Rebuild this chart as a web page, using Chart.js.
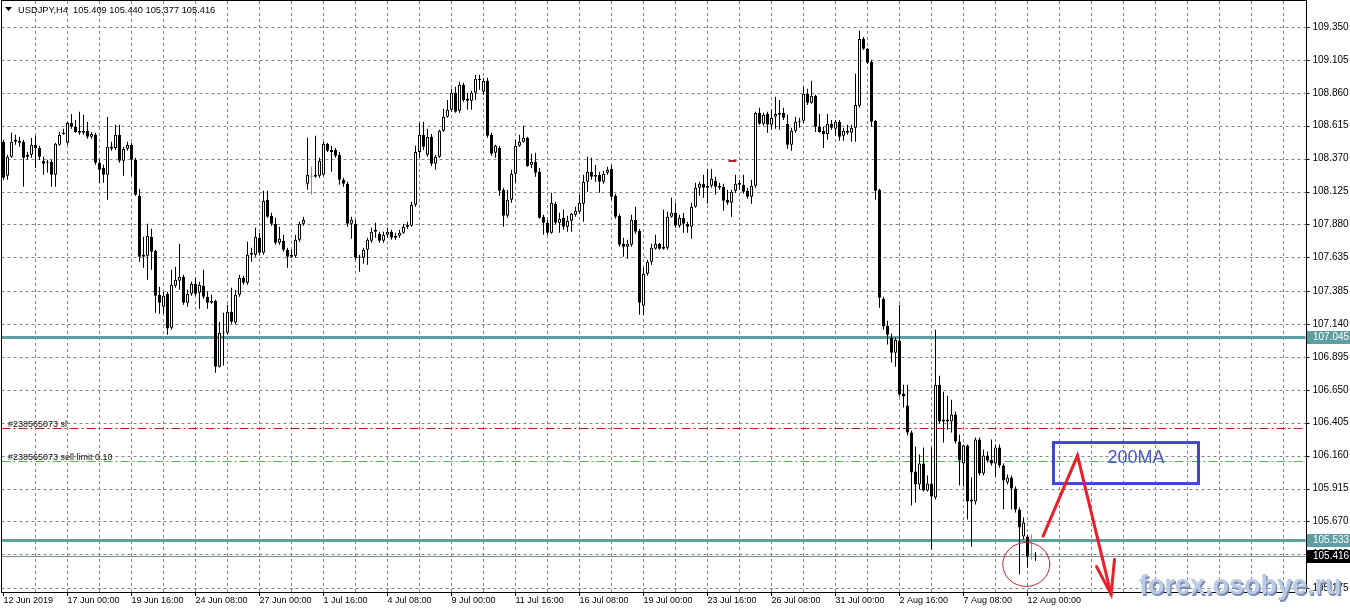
<!DOCTYPE html>
<html><head><meta charset="utf-8">
<script src="https://cdn.jsdelivr.net/npm/chart.js@4.4.1/dist/chart.umd.min.js"></script>
<style>html,body{margin:0;padding:0;background:#fff;overflow:hidden}canvas{display:block}</style>
</head><body>
<canvas id="c" width="1350" height="611"></canvas>
<script>
const symbolTitle = 'USDJPY,H4  105.409 105.440 105.377 105.416';
const firstLabel = '12 Jun 2019';
const tickLabels = ['12 Jun 2019','17 Jun 00:00','19 Jun 16:00','24 Jun 08:00','27 Jun 00:00','1 Jul 16:00','4 Jul 08:00','9 Jul 00:00','11 Jul 16:00','16 Jul 08:00','19 Jul 00:00','23 Jul 16:00','26 Jul 08:00','31 Jul 00:00','2 Aug 16:00','7 Aug 08:00','12 Aug 00:00'];
const yTicks = [109.350,109.105,108.860,108.615,108.370,108.125,107.880,107.635,107.385,107.140,106.895,106.650,106.405,106.160,105.915,105.670,105.425,105.175];

const open = [
108.495,108.242,108.384,108.495,108.503,108.495,108.384,108.398,108.473,108.450,
108.354,108.346,108.346,108.250,108.473,108.554,108.488,108.636,108.607,108.577,
108.562,108.577,108.532,108.547,108.339,108.301,108.250,108.458,108.450,108.547,
108.354,108.443,108.473,108.361,108.094,107.640,107.647,107.789,107.685,107.357,
107.268,107.365,107.112,107.424,107.462,107.491,107.298,107.365,107.439,107.372,
107.424,107.343,107.298,107.313,106.822,107.068,107.075,107.231,107.150,107.357,
107.484,107.447,107.655,107.655,107.782,107.670,108.064,107.945,107.886,107.744,
107.759,107.692,107.655,107.647,107.766,107.886,108.183,108.235,108.250,108.242,
108.250,108.480,108.435,108.435,108.398,108.212,108.183,107.886,107.886,107.640,
107.633,107.692,107.759,107.840,107.811,107.759,107.804,107.826,107.782,107.796,
107.819,107.863,107.871,108.027,108.420,108.547,108.398,108.532,108.331,108.384,
108.577,108.681,108.733,108.860,108.726,108.919,108.815,108.800,108.860,108.964,
108.867,108.949,108.547,108.413,108.450,108.138,107.945,108.064,108.257,108.465,
108.495,108.525,108.324,108.346,108.272,107.938,107.893,107.819,108.035,107.893,
107.930,107.863,107.908,107.953,107.975,108.035,108.198,108.272,108.250,108.250,
108.198,108.264,108.294,108.094,107.945,107.737,107.715,107.729,107.915,107.834,
107.276,107.514,107.603,107.700,107.737,107.700,107.707,107.938,107.968,107.871,
107.930,107.886,107.863,108.012,108.153,108.183,108.153,108.168,108.205,108.168,
108.160,108.064,108.042,108.131,108.190,108.175,108.131,108.086,108.168,108.711,
108.629,108.703,108.622,108.681,108.696,108.711,108.629,108.473,108.577,108.651,
108.651,108.852,108.785,108.837,108.607,108.577,108.554,108.629,108.592,108.644,
108.540,108.577,108.562,108.599,108.763,109.261,109.187,109.090,108.651,108.138,
107.328,107.127,107.038,106.926,107.016,106.622,106.532,106.332,106.042,105.945,
106.101,105.900,105.952,105.848,106.688,106.428,106.428,106.413,106.465,106.265,
106.101,106.235,105.833,105.818,106.279,106.027,106.161,106.130,106.101,106.220,
106.086,105.960,105.997,105.915,105.759,105.558,105.558,105.424,105.409];

const high = [
108.510,108.398,108.562,108.547,108.532,108.510,108.420,108.525,108.540,108.465,
108.384,108.361,108.361,108.488,108.569,108.592,108.644,108.703,108.658,108.718,
108.696,108.644,108.569,108.562,108.361,108.324,108.681,108.495,108.622,108.622,
108.458,108.495,108.488,108.376,108.146,107.789,107.886,107.848,107.692,107.417,
107.380,107.380,107.543,107.566,107.737,107.506,107.394,107.454,107.484,107.454,
107.543,107.380,107.357,107.320,107.157,107.224,107.283,107.409,107.394,107.506,
107.499,107.752,107.707,107.856,107.819,108.131,108.131,107.968,107.930,107.863,
107.804,107.707,107.692,107.804,107.901,107.938,108.525,108.309,108.540,108.376,
108.495,108.488,108.465,108.450,108.420,108.227,108.198,107.938,107.915,107.655,
107.707,107.782,107.856,107.893,107.826,107.826,107.856,107.840,107.819,107.840,
107.886,107.901,108.050,108.465,108.636,108.644,108.592,108.554,108.398,108.584,
108.741,108.807,108.890,108.904,108.942,108.934,108.860,108.875,108.994,108.994,
108.971,108.971,108.562,108.473,108.465,108.153,108.138,108.287,108.510,108.547,
108.614,108.532,108.406,108.413,108.301,107.953,107.915,108.116,108.050,107.968,
107.989,107.945,107.968,108.012,108.101,108.250,108.384,108.376,108.324,108.272,
108.279,108.309,108.324,108.109,107.960,107.782,107.766,107.953,108.012,107.848,
107.558,107.617,107.737,107.804,107.744,107.989,107.975,108.079,108.042,107.953,
107.968,107.901,108.042,108.190,108.198,108.250,108.294,108.294,108.235,108.190,
108.183,108.138,108.138,108.250,108.212,108.250,108.153,108.212,108.718,108.748,
108.711,108.718,108.733,108.830,108.807,108.748,108.696,108.599,108.681,108.674,
108.904,108.890,108.949,108.845,108.703,108.607,108.703,108.658,108.658,108.658,
108.599,108.622,108.622,109.001,109.321,109.276,109.194,109.105,108.658,108.146,
107.343,107.164,107.068,107.038,107.283,106.688,106.688,106.347,106.228,106.168,
106.220,106.012,106.220,107.097,106.755,106.636,106.606,106.576,106.488,106.317,
106.242,106.242,105.997,106.294,106.294,106.205,106.190,106.279,106.242,106.242,
106.101,106.019,106.012,105.930,105.774,105.700,105.573,105.573,105.440];

const low = [
108.212,108.212,108.376,108.473,108.458,108.160,108.361,108.376,108.301,108.361,
108.250,108.264,108.160,108.160,108.465,108.547,108.473,108.592,108.562,108.547,
108.547,108.518,108.518,108.324,108.190,108.190,108.064,108.428,108.435,108.339,
108.242,108.428,108.242,108.094,107.603,107.558,107.469,107.543,107.224,107.216,
107.216,107.060,107.097,107.409,107.394,107.283,107.268,107.350,107.350,107.253,
107.328,107.253,107.290,106.777,106.815,106.830,107.060,107.142,107.135,107.343,
107.432,107.432,107.603,107.640,107.655,107.655,107.930,107.871,107.729,107.729,
107.677,107.558,107.633,107.633,107.752,107.871,108.138,108.101,108.227,108.227,
108.242,108.420,108.272,108.376,108.175,108.160,107.863,107.774,107.617,107.529,
107.588,107.581,107.744,107.782,107.744,107.744,107.782,107.766,107.766,107.782,
107.811,107.848,107.863,108.012,108.376,108.435,108.384,108.316,108.287,108.376,
108.570,108.674,108.718,108.711,108.711,108.793,108.733,108.733,108.807,108.882,
108.845,108.525,108.391,108.376,108.094,107.863,107.930,108.042,108.190,108.458,
108.488,108.309,108.301,108.235,107.923,107.804,107.804,107.811,107.878,107.819,
107.840,107.826,107.826,107.938,107.960,107.901,108.124,108.212,108.198,108.116,
108.183,108.250,108.064,107.923,107.715,107.640,107.625,107.715,107.811,107.209,
107.209,107.499,107.581,107.692,107.692,107.692,107.692,107.930,107.856,107.856,
107.819,107.819,107.774,108.005,108.094,108.079,108.035,108.153,108.101,108.138,
107.982,108.027,107.938,108.116,108.138,108.109,108.072,108.035,108.153,108.622,
108.614,108.562,108.584,108.592,108.584,108.658,108.443,108.428,108.562,108.599,
108.636,108.770,108.778,108.569,108.562,108.450,108.510,108.584,108.540,108.503,
108.503,108.547,108.495,108.495,108.748,109.179,109.075,108.607,108.064,107.261,
107.097,106.986,106.852,106.822,106.600,106.518,106.309,105.789,105.811,105.907,
105.893,105.893,105.461,105.833,106.398,106.257,106.353,106.332,106.250,105.937,
105.930,105.684,105.484,105.796,106.012,106.012,106.109,106.086,106.005,106.071,
105.759,105.945,105.759,105.737,105.278,105.536,105.328,105.387,105.377];

const close = [
108.227,108.384,108.495,108.510,108.488,108.376,108.398,108.473,108.450,108.384,
108.331,108.339,108.250,108.480,108.547,108.562,108.636,108.607,108.569,108.562,
108.577,108.532,108.554,108.339,108.287,108.250,108.458,108.443,108.547,108.354,
108.443,108.473,108.361,108.101,107.640,107.655,107.796,107.677,107.350,107.298,
107.350,107.105,107.432,107.469,107.491,107.298,107.365,107.439,107.365,107.432,
107.343,107.298,107.313,106.822,107.075,107.075,107.231,107.157,107.357,107.484,
107.447,107.655,107.670,107.789,107.670,108.057,107.938,107.886,107.744,107.774,
107.692,107.640,107.640,107.766,107.886,107.915,108.250,108.235,108.235,108.354,
108.480,108.428,108.420,108.391,108.212,108.183,107.886,107.915,107.633,107.633,
107.692,107.766,107.826,107.826,107.759,107.804,107.826,107.782,107.796,107.819,
107.863,107.878,108.027,108.420,108.547,108.458,108.532,108.331,108.384,108.577,
108.681,108.733,108.860,108.718,108.919,108.807,108.800,108.860,108.964,108.956,
108.949,108.540,108.406,108.465,108.131,107.945,108.064,108.257,108.465,108.495,
108.525,108.316,108.346,108.264,107.930,107.893,107.819,108.042,107.893,107.923,
107.863,107.908,107.960,107.982,108.042,108.198,108.272,108.235,108.235,108.198,
108.257,108.287,108.086,107.938,107.729,107.715,107.737,107.915,107.826,107.298,
107.514,107.603,107.707,107.737,107.700,107.715,107.938,107.968,107.871,107.930,
107.886,107.863,108.012,108.153,108.183,108.153,108.168,108.220,108.160,108.153,
108.057,108.042,108.124,108.183,108.175,108.124,108.086,108.168,108.711,108.629,
108.696,108.622,108.674,108.703,108.711,108.674,108.473,108.577,108.644,108.644,
108.852,108.785,108.837,108.607,108.569,108.554,108.629,108.599,108.644,108.532,
108.577,108.562,108.599,108.770,109.261,109.187,109.083,108.644,108.131,107.335,
107.120,107.060,106.926,107.023,106.614,106.600,106.332,106.035,105.945,106.101,
105.900,105.952,105.856,106.688,106.413,106.413,106.413,106.465,106.265,106.123,
106.235,105.818,105.818,106.279,106.027,106.161,106.123,106.101,106.220,106.086,
105.975,105.997,105.915,105.759,105.625,105.662,105.410,105.424,105.416];

const levelLines = [107.045, 105.533];
const currentPrice = 105.416;
const stopLossPrice = 106.362;
const sellLimitPrice = 106.123;
const slLabel = '#238565073 sl';
const limitLabel = '#238565073 sell limit 0.10';
const noteText = '200MA';
const noteBox = [262.5, 106.257, 298.75, 105.952];
const arrowPath = [[259.9,105.561],[268.5,106.160],[276.9,105.127]];
const arrowHead = [[273.25,105.335],[276.9,105.127],[277.75,105.387]];
const circleCenter = [255.7, 105.350];
const orderMark = [[181.25,108.354],[183,108.354]];
const watermark = 'forex.osobye.ru';
const totalSlots = 326;

// bar times (H4, weekdays only)
const MON=['Jan','Feb','Mar','Apr','May','Jun','Jul','Aug','Sep','Oct','Nov','Dec'];
const categories=[]; let t=Date.UTC(2019,5,12,8);
while(categories.length<totalSlots){const d=new Date(t);const wd=d.getUTCDay();
 if(wd!==0&&wd!==6){categories.push(d.getUTCDate()+' '+MON[d.getUTCMonth()]+' '+String(d.getUTCHours()).padStart(2,'0')+':00');}
 t+=4*3600000;}
categories[0]=firstLabel;

const bodies=[],wicks=[],bodyFill=[],bodyBorder=[],wickColor=[];
const GREEN='#33cc33';
for(let i=0;i<open.length;i++){const o=open[i],c=close[i];
 bodies.push([o,c]); wicks.push([Math.min(low[i],o,c),Math.max(high[i],o,c)]);
 const doji=o===c;
 bodyFill.push(doji?GREEN:(c>o?'#ffffff':'#000000'));
 bodyBorder.push(doji?GREEN:'#000000');
 wickColor.push(doji?GREEN:'#000000');}

const FONT='"Liberation Sans", Arial, sans-serif';
const mtPlugin={id:'mt',
 beforeDatasetsDraw(chart){
  const {ctx,chartArea:a,scales:{x,y}}=chart;
  ctx.save();
  ctx.strokeStyle='#858585'; ctx.lineWidth=1; ctx.setLineDash([3,3]);
  for(let i=8;i<totalSlots;i+=8){const px=x.getPixelForValue(i);
   ctx.beginPath();ctx.moveTo(px,a.top);ctx.lineTo(px,a.bottom);ctx.stroke();}
  yTicks.forEach(v=>{const py=Math.round(y.getPixelForValue(v))+0.5;
   ctx.beginPath();ctx.moveTo(a.left,py);ctx.lineTo(a.right,py);ctx.stroke();});
  // order lines
  const dl=(p,col)=>{const py=Math.round(y.getPixelForValue(p))+0.5;ctx.strokeStyle=col;ctx.setLineDash([9,3,2,3]);
   ctx.beginPath();ctx.moveTo(a.left,py);ctx.lineTo(a.right,py);ctx.stroke();return py;};
  const ySl=dl(stopLossPrice,'#b22222');
  const yLim=dl(sellLimitPrice,'#4cbb4c');
  ctx.setLineDash([]);
  ctx.fillStyle='#111'; ctx.font='9px '+FONT; ctx.textBaseline='alphabetic'; ctx.textAlign='left';
  ctx.fillText(slLabel,8,ySl-2); ctx.fillText(limitLabel,8,yLim-2);
  // current price line
  ctx.strokeStyle='#7d8b96'; ctx.lineWidth=1;
  let py=Math.round(y.getPixelForValue(currentPrice))+0.5;
  ctx.beginPath();ctx.moveTo(a.left,py);ctx.lineTo(a.right,py);ctx.stroke();
  // level lines
  ctx.strokeStyle='#5f9ea0'; ctx.lineWidth=3;
  levelLines.forEach(v=>{const q=Math.round(y.getPixelForValue(v))+0.5;
   ctx.beginPath();ctx.moveTo(a.left,q);ctx.lineTo(a.right,q);ctx.stroke();});
  ctx.restore();
 },
 afterDraw(chart){
  const {ctx,chartArea:a,scales:{x,y}}=chart;
  const P=(pt)=>[x.getPixelForValue(pt[0]),y.getPixelForValue(pt[1])];
  ctx.save();
  // frame
  ctx.strokeStyle='#000'; ctx.lineWidth=1; ctx.setLineDash([]);
  ctx.strokeRect(Math.floor(a.left)+0.5,0.5,Math.round(a.right)-Math.floor(a.left),Math.round(a.bottom));
  // y tick marks
  yTicks.forEach(v=>{const py=Math.round(y.getPixelForValue(v))+0.5;
   ctx.beginPath();ctx.moveTo(a.right,py);ctx.lineTo(a.right+4,py);ctx.stroke();});
  // x tick marks
  categories.forEach((l,i)=>{if(tickLabels.includes(l)){const px=x.getPixelForValue(i);
   ctx.beginPath();ctx.moveTo(px,a.bottom);ctx.lineTo(px,a.bottom+4);ctx.stroke();}});
  // order marker
  ctx.strokeStyle='#b22222'; ctx.lineWidth=2;
  const m0=P(orderMark[0]),m1=P(orderMark[1]);
  ctx.beginPath();ctx.moveTo(m0[0],Math.round(m0[1]));ctx.lineTo(m1[0]+1,Math.round(m1[1]));ctx.stroke();
  // price boxes
  ctx.font='10px '+FONT; ctx.textBaseline='middle'; ctx.textAlign='left';
  const box=(p,bg)=>{const py=Math.round(y.getPixelForValue(p));
   ctx.fillStyle=bg; ctx.fillRect(Math.round(a.right)+1,py-6,44,13);
   ctx.fillStyle='#fff'; ctx.fillText(p.toFixed(3),Math.round(a.right)+7,py+0.5);};
  levelLines.forEach(v=>box(v,'#5f9ea0'));
  box(currentPrice,'#000');
  // note box
  const b0=P([noteBox[0],noteBox[1]]),b1=P([noteBox[2],noteBox[3]]);
  ctx.strokeStyle='#3f48cc'; ctx.lineWidth=3;
  ctx.strokeRect(b0[0],b0[1],b1[0]-b0[0],b1[1]-b0[1]);
  ctx.fillStyle='#4a55c8'; ctx.font='18px '+FONT; ctx.textAlign='center'; ctx.textBaseline='middle';
  ctx.fillText(noteText,(b0[0]+b1[0])/2+10,b0[1]+15);
  // red arrow
  ctx.strokeStyle='#e8202a'; ctx.lineWidth=3; ctx.lineJoin='miter'; ctx.lineCap='round';
  ctx.beginPath(); arrowPath.forEach((pt,i)=>{const q=P(pt); i?ctx.lineTo(q[0],q[1]):ctx.moveTo(q[0],q[1]);}); ctx.stroke();
  ctx.beginPath(); arrowHead.forEach((pt,i)=>{const q=P(pt); i?ctx.lineTo(q[0],q[1]):ctx.moveTo(q[0],q[1]);}); ctx.stroke();
  // circle
  const cc=P(circleCenter);
  ctx.strokeStyle='#c0222a'; ctx.lineWidth=1;
  ctx.beginPath(); ctx.ellipse(cc[0],cc[1],23.5,22,0,0,Math.PI*2); ctx.stroke();
  // title
  ctx.fillStyle='#000';
  ctx.beginPath(); ctx.moveTo(5,7); ctx.lineTo(12,7); ctx.lineTo(8.5,11); ctx.closePath(); ctx.fill();
  ctx.font='9.3px '+FONT; ctx.textAlign='left'; ctx.textBaseline='middle';
  ctx.fillText(symbolTitle,18,10);
  // watermark
  ctx.font='bold 27px '+FONT; ctx.textAlign='left'; ctx.textBaseline='alphabetic';
  ctx.fillStyle='rgba(110,130,170,0.9)'; ctx.fillText(watermark,1140.5,595.5);
  ctx.fillStyle='rgb(188,202,228)'; ctx.fillText(watermark,1139,594);
  ctx.restore();
 }};

new Chart(document.getElementById('c').getContext('2d'),{
 type:'bar',
 data:{labels:categories,datasets:[
  {data:bodies,backgroundColor:bodyFill,borderColor:bodyBorder,borderWidth:1,borderSkipped:false,barThickness:3,minBarLength:1,grouped:false,inflateAmount:0,order:0},
  {data:wicks,backgroundColor:wickColor,borderWidth:0,barThickness:1,grouped:false,inflateAmount:0,order:1}
 ]},
 options:{responsive:false,animation:false,devicePixelRatio:1,events:[],
  layout:{padding:{left:1.5,top:1,right:0,bottom:0}},
  plugins:{legend:{display:false},tooltip:{enabled:false}},
  scales:{
   x:{type:'category',offset:true,grid:{display:false,drawTicks:false},border:{display:false},
    ticks:{autoSkip:false,maxRotation:0,minRotation:0,align:'start',padding:3,color:'#000',font:{family:'Liberation Sans',size:9},
     callback:(v)=>tickLabels.includes(categories[v])?categories[v]:''},
    afterFit:(s)=>{s.height=19;s.paddingLeft=0;s.paddingRight=0;}},
   y:{type:'linear',position:'right',min:105.145,max:109.543,grid:{display:false,drawTicks:false},border:{display:false},
    afterBuildTicks:(s)=>{s.ticks=yTicks.map(v=>({value:v}));},
    ticks:{padding:7,color:'#000',font:{family:'Liberation Sans',size:10},callback:(v)=>Number(v).toFixed(3)},
    afterFit:(s)=>{s.width=44.5;s.paddingTop=0;s.paddingBottom=0;}}
  }},
 plugins:[mtPlugin]
});
</script>
</body></html>
